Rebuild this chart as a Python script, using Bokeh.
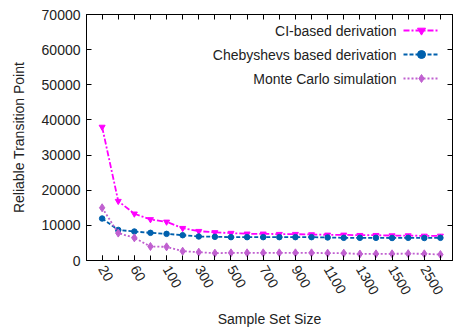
import math
from bokeh.plotting import figure
from bokeh.models import (Range1d, LinearAxis, Legend, LegendItem, Label, FixedTicker, ColumnDataSource)
from bokeh.core.properties import value
from bokeh.embed import file_html
from bokeh.resources import INLINE

sizes = ["20", "40", "60", "80", "100", "200", "300", "400", "500", "600", "700",
         "800", "900", "1000", "1100", "1200", "1300", "1400", "1500", "2000", "2500", "3000"]
shown_labels = ["20", "60", "100", "300", "500", "700", "900", "1100", "1300", "1500", "2500"]
ci_based = [38000, 16900, 13300, 11700, 11000, 9200, 8350, 8000, 7800, 7600, 7600,
            7500, 7500, 7400, 7300, 7300, 7200, 7200, 7100, 7100, 7000, 7000]
chebyshev = [11950, 8700, 8250, 7870, 7580, 7200, 6830, 6740, 6640, 6640, 6640,
             6640, 6640, 6640, 6550, 6450, 6450, 6450, 6400, 6450, 6400, 6450]
monte_carlo = [15000, 7800, 6450, 3980, 3890, 2650, 2370, 2090, 2180, 2180, 2180,
               2180, 2180, 2180, 2090, 2090, 1850, 1900, 1900, 1950, 1900, 1700]
series_names = ["CI-based derivation", "Chebyshevs based derivation", "Monte Carlo simulation"]
y_ticks = [0, 10000, 20000, 30000, 40000, 50000, 60000, 70000]

FONT = "Liberation Sans"
colors = ["#ff00ff", "#0060ad", "#c060d0"]
dashes = ["6 2 2 2", "4 2", "2 2"]
markers = ["inverted_triangle", "circle", "diamond"]
msizes = [6, 5.5, 8]

idx = list(range(len(sizes)))
src = ColumnDataSource(dict(x=idx, ci=ci_based, ch=chebyshev, mc=monte_carlo))

n = len(sizes)
p = figure(width=454, height=333, output_backend="svg", toolbar_location=None,
           x_range=Range1d(-0.97, n - 1 + 0.75),
           y_range=Range1d(0, 70000),
           min_border_left=86, min_border_right=2, min_border_top=14, min_border_bottom=73)
p.background_fill_color = "white"
p.border_fill_color = "white"
p.grid.visible = False
p.outline_line_color = "black"
p.outline_line_width = 1

renderers = []
for key, c, d, m, ms in zip(["ci", "ch", "mc"], colors, dashes, markers, msizes):
    lr = p.line("x", key, source=src, line_color=c, line_width=1.8, line_dash=d)
    sr = p.scatter("x", key, source=src, marker=m, size=ms, fill_color=c, line_color=c)
    renderers.append([lr, sr])

shown_idx = [sizes.index(s) for s in shown_labels]

xa = p.xaxis[0]
xa.axis_label = "Sample Set Size"
xa.ticker = FixedTicker(ticks=shown_idx, minor_ticks=idx)
xa.major_label_overrides = {i: sizes[i] for i in shown_idx}
xa.major_label_orientation = -math.pi / 3
ya = p.yaxis[0]
ya.axis_label = "Reliable Transition Point"
ya.ticker = FixedTicker(ticks=y_ticks)
for ax in (xa, ya):
    ax.axis_label_text_font = FONT
    ax.axis_label_text_font_size = "14px"
    ax.axis_label_text_font_style = "normal"
    ax.axis_label_text_color = "#222222"
    ax.major_label_text_font = FONT
    ax.major_label_text_font_size = "14px"
    ax.major_label_text_color = "#222222"
    ax.major_tick_in = 5
    ax.major_tick_out = 0
    ax.minor_tick_in = 0
    ax.minor_tick_out = 0
    ax.axis_line_color = "black"
    ax.major_tick_line_color = "black"
    ax.minor_tick_line_color = "black"
xa.minor_tick_in = 5
ya.axis_label_standoff = 12
xa.axis_label_standoff = 10
xa.major_label_standoff = 6
ya.major_label_standoff = 6

# mirror ticks (right and top) drawn as minor ticks only, so no labels
ra = LinearAxis(ticker=FixedTicker(ticks=[], minor_ticks=y_ticks),
                major_tick_in=0, major_tick_out=0, minor_tick_in=5, minor_tick_out=0,
                minor_tick_line_color="black")
ta = LinearAxis(ticker=FixedTicker(ticks=[], minor_ticks=idx),
                major_tick_in=0, major_tick_out=0, minor_tick_in=5, minor_tick_out=0,
                minor_tick_line_color="black")
p.add_layout(ra, "right")
p.add_layout(ta, "above")

# legend: samples on the right, text right-aligned to the left of them
items = [LegendItem(label=value(" "), renderers=rs) for rs in renderers]
leg = Legend(items=items, location=(317, 172), orientation="vertical",
             glyph_width=36, glyph_height=20, label_height=20, label_width=0,
             label_standoff=0, spacing=4, padding=0, margin=0,
             border_line_color=None, background_fill_alpha=0,
             label_text_font_size="10px")
p.add_layout(leg, "center")

row_y = [230, 206, 182]
for name, ly in zip(series_names, row_y):
    p.add_layout(Label(x=310, y=ly, x_units="screen", y_units="screen", text=name,
                       text_align="right", text_baseline="middle",
                       text_font=FONT, text_font_size="14px", text_color="#222222"))

open("out.html", "w").write(file_html(p, INLINE))
